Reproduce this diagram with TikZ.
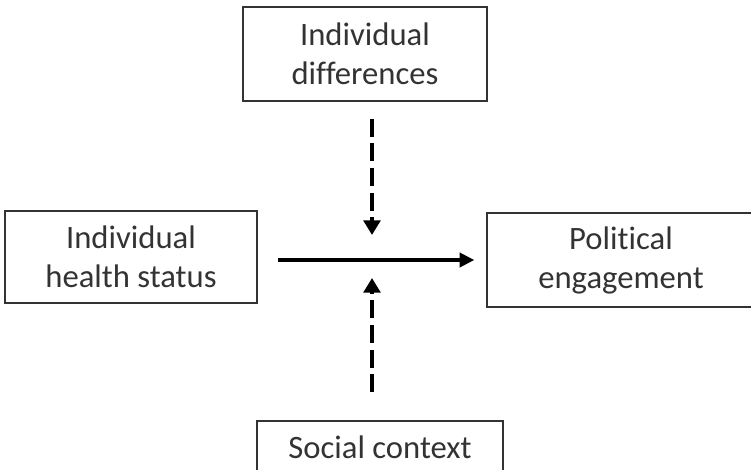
\documentclass[tikz,border=0pt]{standalone}
\usepackage{fontspec}
\setmainfont{Carlito}[Ligatures=NoCommon]
\usetikzlibrary{arrows.meta}

\begin{document}
\begin{tikzpicture}[x=0.75pt,y=-0.75pt,
        box/.style={draw=black!80,line width=1pt,align=center,text=black!80,
            font=\fontsize{24.5}{29.3}\selectfont,inner sep=0pt},
        mainarrow/.style={line width=3.6pt,-{Triangle[length=11pt,width=10.5pt]}},
        modarrow/.style={line width=3.6pt,dash pattern=on 13.5pt off 5pt,
            -{Triangle[length=11pt,width=12.5pt]}}]
        \useasboundingbox (0,0) rectangle (751,469);

        \node[box,minimum width=183pt,minimum height=70.5pt] (diff) at (365,54) {Individual\\differences};
        \node[box,minimum width=189pt,minimum height=69pt] (health) at (131,257) {Individual\\health status};
        \node[box,minimum width=201pt,minimum height=70.5pt] (engage) at (621,260) {Political\\engagement};
        \node[box,minimum width=184.5pt,minimum height=39pt] (social) at (380,447) {Social context};
        \coordinate (mid) at (372,260);

        \draw[mainarrow,shorten <=15pt,shorten >=9pt] (health.east |- mid) -- (engage.west |- mid);
        \draw[modarrow,shorten <=12.75pt,shorten >=18.75pt] (diff.south -| mid) -- (mid);
        \draw[modarrow,shorten <=21pt,shorten >=13.5pt] (social.north -| mid) -- (mid);

%\node at (mid) {x};
\end{tikzpicture}
\end{document}
